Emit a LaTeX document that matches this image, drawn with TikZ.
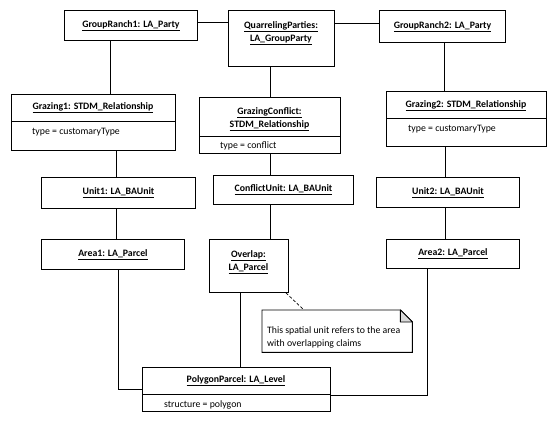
\documentclass[tikz,border=0pt]{standalone}
\usepackage{fontspec}
\setmainfont{Carlito}
\newcommand{\ulb}[1]{\underline{\textbf{#1}}}
\begin{document}
\begin{tikzpicture}[x=1pt,y=-1pt,
  box/.style={draw, line width=0.9pt, fill=white, inner sep=0pt, anchor=north west, font=\fontsize{9.8}{13}\selectfont},
  txt/.style={inner sep=0pt, font=\fontsize{9.8}{13}\selectfont, align=center},
  attr/.style={inner sep=0pt, anchor=west, font=\fontsize{9.8}{13}\selectfont},
  conn/.style={draw, line width=0.9pt},
  divider/.style={draw, line width=0.9pt}]
\useasboundingbox (0,0) rectangle (557,422);
% boxes
\node[box, minimum width=133pt, minimum height=30pt] (gr1) at (64,10) {\ulb{GroupRanch1: LA\_Party}};
\node[box, minimum width=106pt, minimum height=56pt] (qp) at (228,10) {};
\node[txt] (qpt) at (281,33) {\ulb{QuarrelingParties:}\\\ulb{LA\_GroupParty}};
\node[box, minimum width=126pt, minimum height=32pt] (gr2) at (379,10) {\ulb{GroupRanch2: LA\_Party}};
\node[box, minimum width=164pt, minimum height=56pt] (g1) at (11,94) {};
\node[txt] (g1t) at (93,108) {\ulb{Grazing1: STDM\_Relationship}};
\node[attr] (g1a) at (32,132) {type = customaryType};
\node[box, minimum width=141pt, minimum height=56pt] (gc) at (199,97) {};
\node[txt] (gct) at (269.5,119) {\ulb{GrazingConflict:}\\\ulb{STDM\_Relationship}};
\node[attr] (gca) at (220,146) {type = conflict};
\node[box, minimum width=160pt, minimum height=55pt] (g2) at (386,91) {};
\node[txt] (g2t) at (466,106) {\ulb{Grazing2: STDM\_Relationship}};
\node[attr] (g2a) at (408,129) {type = customaryType};
\node[box, minimum width=154pt, minimum height=31pt] (u1) at (41,177) {\ulb{Unit1: LA\_BAUnit}};
\node[box, minimum width=140pt, minimum height=29pt] (cu) at (213,175) {\ulb{ConflictUnit: LA\_BAUnit}};
\node[box, minimum width=143pt, minimum height=30pt] (u2) at (376,177) {\ulb{Unit2: LA\_BAUnit}};
\node[box, minimum width=143pt, minimum height=30pt] (a1) at (41,239) {\ulb{Area1: LA\_Parcel}};
\node[box, minimum width=79pt, minimum height=53pt] (ov) at (209,239) {};
\node[txt] (ovt) at (248.5,262) {\ulb{Overlap:}\\\ulb{LA\_Parcel}};
\node[box, minimum width=133pt, minimum height=29pt] (a2) at (386,239) {\ulb{Area2: LA\_Parcel}};
\node[box, minimum width=188pt, minimum height=44pt] (pp) at (142,367) {};
\node[txt] (ppt) at (236,381) {\ulb{PolygonParcel: LA\_Level}};
\node[attr] (ppa) at (164,405) {structure = polygon};
% dividers
\draw[divider] (g1.west |- 0,121) -- (g1.east |- 0,121);
\draw[divider] (gc.west |- 0,136) -- (gc.east |- 0,136);
\draw[divider] (g2.west |- 0,118) -- (g2.east |- 0,118);
\draw[divider] (pp.west |- 0,394) -- (pp.east |- 0,394);
% note
\node[inner sep=0pt, minimum width=150pt, minimum height=42pt, anchor=north west] (note) at (262,310) {};
\draw[line width=0.9pt, fill=white] (note.north west) -- ([xshift=-12pt]note.north east) -- ([yshift=-12pt]note.north east) -- (note.south east) -- (note.south west) -- cycle;
\draw[line width=0.9pt, fill=black!15, line join=round] ([xshift=-12pt]note.north east) -- ([xshift=-12pt,yshift=-12pt]note.north east) -- ([yshift=-12pt]note.north east) -- cycle;
\node[attr] (notet1) at (267,331) {This spatial unit refers to the area};
\node[attr] (notet2) at (267,344) {with overlapping claims};
% connectors
\draw[conn] ([yshift=3pt]gr1.east) -- ([yshift=3pt]gr1.east -| qp.west);
\draw[conn] ([yshift=3pt]gr2.west) -- ([yshift=3pt]gr2.west -| qp.east);
\draw[conn] ([xshift=-20.5pt]gr1.south) -- ([xshift=-20.5pt]gr1.south |- g1.north);
\draw[conn] (gc.north) -- (gc.north |- qp.south);
\draw[conn] ([xshift=2pt]gr2.south) -- ([xshift=2pt]gr2.south |- g2.north);
\draw[conn] ([xshift=-2pt]u1.north) -- ([xshift=-2pt]u1.north |- g1.south);
\draw[conn] ([xshift=-2pt]u1.south) -- ([xshift=-2pt]u1.south |- a1.north);
\draw[conn] (gc.south) -- (gc.south |- cu.north);
\draw[conn] (cu.south -| gc.south) -- (ov.north -| gc.south);
\draw[conn] ([xshift=-2.5pt]u2.north) -- ([xshift=-2.5pt]u2.north |- g2.south);
\draw[conn] ([xshift=-2.5pt]u2.south) -- ([xshift=-2.5pt]u2.south |- a2.north);
\draw[conn] ([xshift=5.5pt]a1.south) |- (pp.west);
\draw[conn] ([xshift=-8.5pt]ov.south) -- ([xshift=-8.5pt]ov.south |- pp.north);
\draw[conn] ([xshift=-25.5pt]a2.south) |- ([yshift=-6pt]pp.east);
\draw[line width=0.7pt, dashed, dash pattern=on 3pt off 2pt] ([xshift=-3pt]ov.south east) -- ([xshift=42pt]note.north west);
\end{tikzpicture}
\end{document}
